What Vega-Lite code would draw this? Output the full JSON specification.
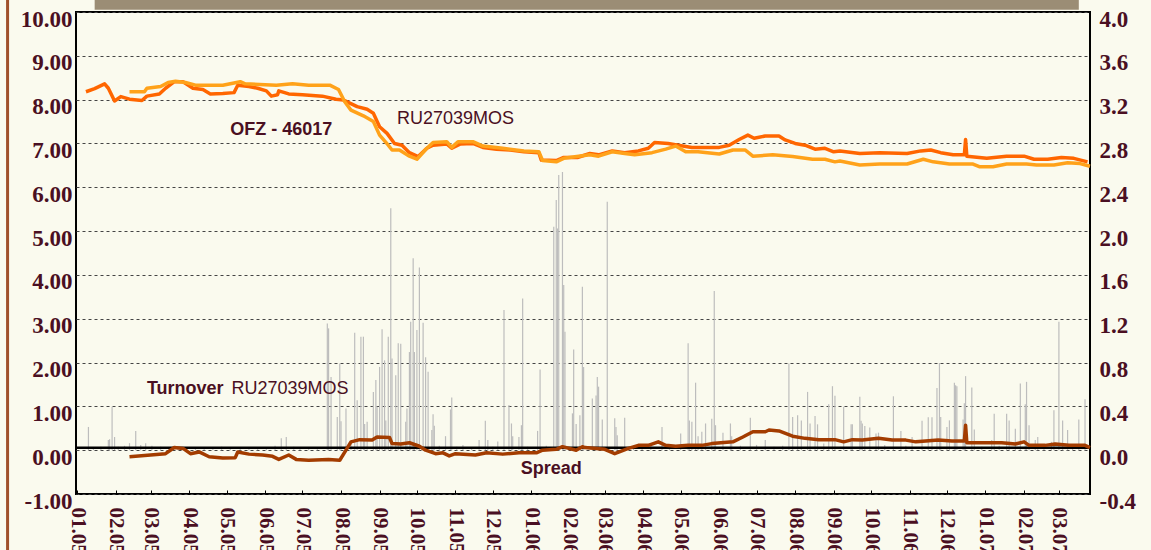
{
  "$schema": "https://vega.github.io/schema/vega-lite/v6.json",
  "width": 1014,
  "height": 482,
  "autosize": {"type": "none"},
  "padding": {"left": 76, "top": 12, "right": 61, "bottom": 56},
  "background": "#fafaee",
  "config": {
    "view": {"stroke": "black", "strokeWidth": 2, "fill": "#fafaee"},
    "axis": {
      "labelFont": "Liberation Serif",
      "labelFontWeight": "bold",
      "labelColor": "#4a0f22",
      "title": null,
      "domain": false
    }
  },
  "datasets": {
    "band": [{"date": "2005-01-15", "date2": "2007-03-17"}],
    "border": [{"date": "2004-11-06"}],
    "turnover": [
      {"date": "2005-01-10", "v": 0.53}, {"date": "2005-01-14", "v": 0.06}, {"date": "2005-01-20", "v": 0.08},
      {"date": "2005-01-26", "v": 0.23}, {"date": "2005-01-27", "v": 0.25}, {"date": "2005-01-29", "v": 0.99},
      {"date": "2005-01-31", "v": 0.30}, {"date": "2005-02-03", "v": 0.08}, {"date": "2005-02-08", "v": 0.10},
      {"date": "2005-02-12", "v": 0.16}, {"date": "2005-02-17", "v": 0.44}, {"date": "2005-02-21", "v": 0.12},
      {"date": "2005-02-25", "v": 0.16}, {"date": "2005-03-02", "v": 0.10}, {"date": "2005-03-09", "v": 0.08},
      {"date": "2005-03-16", "v": 0.06}, {"date": "2005-03-23", "v": 0.05}, {"date": "2005-03-30", "v": 0.07},
      {"date": "2005-04-06", "v": 0.05}, {"date": "2005-04-13", "v": 0.06}, {"date": "2005-04-20", "v": 0.05},
      {"date": "2005-04-27", "v": 0.08}, {"date": "2005-05-04", "v": 0.06}, {"date": "2005-05-12", "v": 0.05},
      {"date": "2005-05-19", "v": 0.07}, {"date": "2005-05-26", "v": 0.06}, {"date": "2005-06-02", "v": 0.05},
      {"date": "2005-06-09", "v": 0.10}, {"date": "2005-06-14", "v": 0.27}, {"date": "2005-06-18", "v": 0.30},
      {"date": "2005-06-24", "v": 0.08}, {"date": "2005-06-29", "v": 0.05}, {"date": "2005-07-06", "v": 0.06},
      {"date": "2005-07-13", "v": 0.07}, {"date": "2005-07-21", "v": 2.89}, {"date": "2005-07-22", "v": 2.78},
      {"date": "2005-07-24", "v": 1.67}, {"date": "2005-07-29", "v": 0.76}, {"date": "2005-07-31", "v": 1.98},
      {"date": "2005-08-01", "v": 0.66}, {"date": "2005-08-05", "v": 0.95}, {"date": "2005-08-09", "v": 0.20},
      {"date": "2005-08-12", "v": 2.68}, {"date": "2005-08-14", "v": 1.14}, {"date": "2005-08-17", "v": 2.59},
      {"date": "2005-08-19", "v": 2.59}, {"date": "2005-08-20", "v": 0.60}, {"date": "2005-08-22", "v": 0.65},
      {"date": "2005-08-27", "v": 1.33}, {"date": "2005-08-29", "v": 1.60}, {"date": "2005-08-30", "v": 0.99},
      {"date": "2005-09-01", "v": 1.90}, {"date": "2005-09-03", "v": 2.76}, {"date": "2005-09-05", "v": 2.05},
      {"date": "2005-09-06", "v": 0.68}, {"date": "2005-09-08", "v": 2.59}, {"date": "2005-09-10", "v": 5.52},
      {"date": "2005-09-11", "v": 2.09}, {"date": "2005-09-14", "v": 1.71}, {"date": "2005-09-16", "v": 2.44},
      {"date": "2005-09-18", "v": 2.43}, {"date": "2005-09-22", "v": 0.65}, {"date": "2005-09-23", "v": 0.95},
      {"date": "2005-09-25", "v": 2.24}, {"date": "2005-09-26", "v": 2.93}, {"date": "2005-09-28", "v": 4.38},
      {"date": "2005-09-29", "v": 2.24}, {"date": "2005-10-01", "v": 2.74}, {"date": "2005-10-03", "v": 4.17},
      {"date": "2005-10-06", "v": 2.91}, {"date": "2005-10-08", "v": 2.12}, {"date": "2005-10-10", "v": 1.79},
      {"date": "2005-10-13", "v": 0.46}, {"date": "2005-10-14", "v": 0.82}, {"date": "2005-10-15", "v": 0.56},
      {"date": "2005-10-19", "v": 0.10}, {"date": "2005-10-24", "v": 0.32}, {"date": "2005-10-28", "v": 0.93},
      {"date": "2005-10-29", "v": 1.20}, {"date": "2005-11-02", "v": 0.08}, {"date": "2005-11-07", "v": 0.12},
      {"date": "2005-11-14", "v": 0.06}, {"date": "2005-11-20", "v": 0.23}, {"date": "2005-11-25", "v": 0.67},
      {"date": "2005-11-27", "v": 0.23}, {"date": "2005-12-01", "v": 0.08}, {"date": "2005-12-05", "v": 0.20},
      {"date": "2005-12-10", "v": 3.20}, {"date": "2005-12-14", "v": 1.03}, {"date": "2005-12-16", "v": 0.61},
      {"date": "2005-12-17", "v": 0.32}, {"date": "2005-12-22", "v": 0.30}, {"date": "2005-12-24", "v": 0.57},
      {"date": "2005-12-25", "v": 3.46}, {"date": "2005-12-29", "v": 0.08}, {"date": "2006-01-06", "v": 0.44},
      {"date": "2006-01-08", "v": 1.84}, {"date": "2006-01-13", "v": 0.10}, {"date": "2006-01-19", "v": 5.10},
      {"date": "2006-01-21", "v": 5.71}, {"date": "2006-01-22", "v": 5.06}, {"date": "2006-01-23", "v": 6.28},
      {"date": "2006-01-26", "v": 6.35}, {"date": "2006-01-27", "v": 3.77}, {"date": "2006-01-28", "v": 2.70},
      {"date": "2006-02-03", "v": 0.84}, {"date": "2006-02-04", "v": 2.30}, {"date": "2006-02-06", "v": 0.60},
      {"date": "2006-02-09", "v": 0.80}, {"date": "2006-02-11", "v": 3.73}, {"date": "2006-02-12", "v": 1.90},
      {"date": "2006-02-19", "v": 1.18}, {"date": "2006-02-22", "v": 1.25}, {"date": "2006-02-23", "v": 1.67},
      {"date": "2006-02-24", "v": 1.45}, {"date": "2006-02-27", "v": 0.70}, {"date": "2006-03-03", "v": 5.67},
      {"date": "2006-03-09", "v": 0.73}, {"date": "2006-03-10", "v": 0.53}, {"date": "2006-03-11", "v": 0.34},
      {"date": "2006-03-17", "v": 0.74}, {"date": "2006-03-24", "v": 0.08}, {"date": "2006-03-31", "v": 0.06},
      {"date": "2006-04-07", "v": 0.10}, {"date": "2006-04-16", "v": 0.53}, {"date": "2006-04-22", "v": 0.08},
      {"date": "2006-05-01", "v": 0.38}, {"date": "2006-05-07", "v": 2.44}, {"date": "2006-05-08", "v": 0.68},
      {"date": "2006-05-10", "v": 0.65}, {"date": "2006-05-13", "v": 1.54}, {"date": "2006-05-15", "v": 0.32},
      {"date": "2006-05-18", "v": 0.42}, {"date": "2006-05-21", "v": 0.61}, {"date": "2006-05-26", "v": 0.72},
      {"date": "2006-05-28", "v": 3.63}, {"date": "2006-05-29", "v": 0.57}, {"date": "2006-06-04", "v": 0.40},
      {"date": "2006-06-10", "v": 0.61}, {"date": "2006-06-11", "v": 0.32}, {"date": "2006-06-18", "v": 0.10},
      {"date": "2006-06-26", "v": 0.74}, {"date": "2006-07-01", "v": 0.12}, {"date": "2006-07-08", "v": 0.23},
      {"date": "2006-07-15", "v": 0.08}, {"date": "2006-07-22", "v": 0.10}, {"date": "2006-07-27", "v": 1.98},
      {"date": "2006-07-30", "v": 0.76}, {"date": "2006-08-03", "v": 0.80}, {"date": "2006-08-06", "v": 0.68},
      {"date": "2006-08-11", "v": 1.33}, {"date": "2006-08-13", "v": 0.61}, {"date": "2006-08-17", "v": 0.78},
      {"date": "2006-08-19", "v": 0.59}, {"date": "2006-08-24", "v": 0.15}, {"date": "2006-08-28", "v": 1.05},
      {"date": "2006-08-31", "v": 1.46}, {"date": "2006-09-02", "v": 1.24}, {"date": "2006-09-09", "v": 0.99},
      {"date": "2006-09-15", "v": 0.59}, {"date": "2006-09-16", "v": 0.59}, {"date": "2006-09-22", "v": 1.22},
      {"date": "2006-09-23", "v": 0.67}, {"date": "2006-09-24", "v": 0.61}, {"date": "2006-09-26", "v": 0.55},
      {"date": "2006-09-30", "v": 0.52}, {"date": "2006-10-05", "v": 0.38}, {"date": "2006-10-07", "v": 0.40},
      {"date": "2006-10-12", "v": 0.12}, {"date": "2006-10-19", "v": 1.23}, {"date": "2006-10-25", "v": 0.44},
      {"date": "2006-10-29", "v": 0.10}, {"date": "2006-11-03", "v": 0.30}, {"date": "2006-11-11", "v": 0.67},
      {"date": "2006-11-16", "v": 0.75}, {"date": "2006-11-19", "v": 0.75}, {"date": "2006-11-23", "v": 1.42},
      {"date": "2006-11-25", "v": 1.99}, {"date": "2006-11-26", "v": 0.76}, {"date": "2006-12-01", "v": 0.53},
      {"date": "2006-12-03", "v": 0.68}, {"date": "2006-12-07", "v": 1.54}, {"date": "2006-12-08", "v": 1.48},
      {"date": "2006-12-09", "v": 1.46}, {"date": "2006-12-14", "v": 0.70}, {"date": "2006-12-15", "v": 1.07},
      {"date": "2006-12-16", "v": 1.69}, {"date": "2006-12-21", "v": 1.43}, {"date": "2006-12-23", "v": 0.47},
      {"date": "2006-12-29", "v": 0.08}, {"date": "2007-01-06", "v": 0.23}, {"date": "2007-01-08", "v": 0.83},
      {"date": "2007-01-12", "v": 0.10}, {"date": "2007-01-18", "v": 0.83}, {"date": "2007-01-20", "v": 0.68},
      {"date": "2007-01-25", "v": 0.49}, {"date": "2007-01-29", "v": 1.52}, {"date": "2007-02-02", "v": 1.05},
      {"date": "2007-02-03", "v": 1.56}, {"date": "2007-02-05", "v": 0.57}, {"date": "2007-02-10", "v": 0.23},
      {"date": "2007-02-12", "v": 0.30}, {"date": "2007-02-17", "v": 0.08}, {"date": "2007-02-23", "v": 0.19},
      {"date": "2007-02-25", "v": 0.91}, {"date": "2007-03-01", "v": 2.93}, {"date": "2007-03-04", "v": 0.68},
      {"date": "2007-03-08", "v": 0.46}, {"date": "2007-03-12", "v": 0.10}, {"date": "2007-03-17", "v": 0.70},
      {"date": "2007-03-22", "v": 1.16}
    ],
    "ofz": [
      {"date": "2005-01-08", "v": 8.18}, {"date": "2005-01-15", "v": 8.25}, {"date": "2005-01-23", "v": 8.36},
      {"date": "2005-01-26", "v": 8.26}, {"date": "2005-01-31", "v": 7.97}, {"date": "2005-02-05", "v": 8.07},
      {"date": "2005-02-12", "v": 8.01}, {"date": "2005-02-22", "v": 7.98}, {"date": "2005-02-26", "v": 8.08},
      {"date": "2005-03-08", "v": 8.13}, {"date": "2005-03-13", "v": 8.26}, {"date": "2005-03-20", "v": 8.41},
      {"date": "2005-03-27", "v": 8.41}, {"date": "2005-04-04", "v": 8.26}, {"date": "2005-04-12", "v": 8.23},
      {"date": "2005-04-18", "v": 8.13}, {"date": "2005-04-28", "v": 8.14}, {"date": "2005-05-07", "v": 8.16},
      {"date": "2005-05-10", "v": 8.33}, {"date": "2005-05-19", "v": 8.30}, {"date": "2005-05-26", "v": 8.26},
      {"date": "2005-06-02", "v": 8.20}, {"date": "2005-06-06", "v": 8.08}, {"date": "2005-06-11", "v": 8.11},
      {"date": "2005-06-12", "v": 8.20}, {"date": "2005-06-20", "v": 8.13}, {"date": "2005-07-01", "v": 8.11},
      {"date": "2005-07-17", "v": 8.08}, {"date": "2005-07-28", "v": 8.01}, {"date": "2005-08-03", "v": 7.99},
      {"date": "2005-08-14", "v": 7.84}, {"date": "2005-08-22", "v": 7.78}, {"date": "2005-08-27", "v": 7.69},
      {"date": "2005-09-01", "v": 7.38}, {"date": "2005-09-07", "v": 7.23}, {"date": "2005-09-13", "v": 7.00},
      {"date": "2005-09-19", "v": 6.96}, {"date": "2005-09-25", "v": 6.79}, {"date": "2005-10-02", "v": 6.70},
      {"date": "2005-10-09", "v": 6.89}, {"date": "2005-10-14", "v": 6.96}, {"date": "2005-10-25", "v": 6.99},
      {"date": "2005-10-29", "v": 6.89}, {"date": "2005-11-05", "v": 6.99}, {"date": "2005-11-15", "v": 7.00},
      {"date": "2005-11-23", "v": 6.91}, {"date": "2005-12-04", "v": 6.87}, {"date": "2005-12-15", "v": 6.85},
      {"date": "2005-12-26", "v": 6.81}, {"date": "2006-01-07", "v": 6.79}, {"date": "2006-01-09", "v": 6.62},
      {"date": "2006-01-21", "v": 6.61}, {"date": "2006-01-27", "v": 6.68}, {"date": "2006-02-07", "v": 6.68},
      {"date": "2006-02-17", "v": 6.77}, {"date": "2006-02-24", "v": 6.74}, {"date": "2006-03-07", "v": 6.83},
      {"date": "2006-03-17", "v": 6.79}, {"date": "2006-03-28", "v": 6.83}, {"date": "2006-04-05", "v": 6.89},
      {"date": "2006-04-10", "v": 7.02}, {"date": "2006-04-21", "v": 7.00}, {"date": "2006-04-29", "v": 6.96},
      {"date": "2006-05-10", "v": 6.91}, {"date": "2006-05-21", "v": 6.91}, {"date": "2006-06-01", "v": 6.91},
      {"date": "2006-06-09", "v": 6.96}, {"date": "2006-06-17", "v": 7.09}, {"date": "2006-06-24", "v": 7.19},
      {"date": "2006-06-29", "v": 7.12}, {"date": "2006-07-08", "v": 7.17}, {"date": "2006-07-19", "v": 7.17},
      {"date": "2006-07-24", "v": 7.08}, {"date": "2006-08-01", "v": 7.00}, {"date": "2006-08-09", "v": 6.96},
      {"date": "2006-08-17", "v": 6.87}, {"date": "2006-08-25", "v": 6.89}, {"date": "2006-09-01", "v": 6.81},
      {"date": "2006-09-06", "v": 6.83}, {"date": "2006-09-22", "v": 6.77}, {"date": "2006-10-08", "v": 6.79},
      {"date": "2006-10-30", "v": 6.77}, {"date": "2006-11-10", "v": 6.83}, {"date": "2006-11-18", "v": 6.85},
      {"date": "2006-11-26", "v": 6.79}, {"date": "2006-12-06", "v": 6.74}, {"date": "2006-12-15", "v": 6.74},
      {"date": "2006-12-16", "v": 7.09}, {"date": "2006-12-17", "v": 6.71}, {"date": "2007-01-02", "v": 6.66},
      {"date": "2007-01-18", "v": 6.71}, {"date": "2007-02-01", "v": 6.71}, {"date": "2007-02-09", "v": 6.64},
      {"date": "2007-02-20", "v": 6.64}, {"date": "2007-03-03", "v": 6.68}, {"date": "2007-03-13", "v": 6.66},
      {"date": "2007-03-24", "v": 6.58}
    ],
    "ru": [
      {"date": "2005-02-12", "v": 8.18}, {"date": "2005-02-24", "v": 8.18}, {"date": "2005-02-26", "v": 8.26},
      {"date": "2005-03-09", "v": 8.30}, {"date": "2005-03-15", "v": 8.39}, {"date": "2005-03-21", "v": 8.42},
      {"date": "2005-03-29", "v": 8.39}, {"date": "2005-04-06", "v": 8.33}, {"date": "2005-04-28", "v": 8.33},
      {"date": "2005-05-12", "v": 8.41}, {"date": "2005-05-16", "v": 8.36}, {"date": "2005-06-10", "v": 8.33},
      {"date": "2005-06-23", "v": 8.36}, {"date": "2005-07-06", "v": 8.33}, {"date": "2005-07-23", "v": 8.33},
      {"date": "2005-07-30", "v": 8.23}, {"date": "2005-08-04", "v": 7.95}, {"date": "2005-08-09", "v": 7.76},
      {"date": "2005-08-19", "v": 7.63}, {"date": "2005-08-27", "v": 7.50}, {"date": "2005-09-01", "v": 7.19},
      {"date": "2005-09-08", "v": 6.96}, {"date": "2005-09-11", "v": 6.85}, {"date": "2005-09-17", "v": 6.85},
      {"date": "2005-09-25", "v": 6.71}, {"date": "2005-10-01", "v": 6.64}, {"date": "2005-10-09", "v": 6.89},
      {"date": "2005-10-14", "v": 7.02}, {"date": "2005-10-25", "v": 7.04}, {"date": "2005-10-29", "v": 6.91},
      {"date": "2005-11-03", "v": 7.04}, {"date": "2005-11-15", "v": 7.04}, {"date": "2005-11-23", "v": 6.94},
      {"date": "2005-12-09", "v": 6.89}, {"date": "2005-12-26", "v": 6.83}, {"date": "2006-01-07", "v": 6.81},
      {"date": "2006-01-10", "v": 6.61}, {"date": "2006-01-21", "v": 6.58}, {"date": "2006-01-27", "v": 6.66},
      {"date": "2006-02-17", "v": 6.74}, {"date": "2006-02-24", "v": 6.71}, {"date": "2006-03-07", "v": 6.81},
      {"date": "2006-03-17", "v": 6.77}, {"date": "2006-03-25", "v": 6.74}, {"date": "2006-04-08", "v": 6.79},
      {"date": "2006-04-19", "v": 6.87}, {"date": "2006-04-27", "v": 6.94}, {"date": "2006-05-05", "v": 6.81},
      {"date": "2006-05-15", "v": 6.81}, {"date": "2006-06-01", "v": 6.76}, {"date": "2006-06-12", "v": 6.85},
      {"date": "2006-06-22", "v": 6.85}, {"date": "2006-06-28", "v": 6.71}, {"date": "2006-07-14", "v": 6.74},
      {"date": "2006-07-30", "v": 6.70}, {"date": "2006-08-15", "v": 6.64}, {"date": "2006-08-25", "v": 6.64},
      {"date": "2006-09-02", "v": 6.58}, {"date": "2006-09-06", "v": 6.60}, {"date": "2006-09-22", "v": 6.51},
      {"date": "2006-10-08", "v": 6.53}, {"date": "2006-10-30", "v": 6.53}, {"date": "2006-11-12", "v": 6.64},
      {"date": "2006-11-20", "v": 6.58}, {"date": "2006-12-03", "v": 6.53}, {"date": "2006-12-22", "v": 6.53},
      {"date": "2006-12-27", "v": 6.47}, {"date": "2007-01-07", "v": 6.47}, {"date": "2007-01-18", "v": 6.53},
      {"date": "2007-02-03", "v": 6.53}, {"date": "2007-02-11", "v": 6.51}, {"date": "2007-02-25", "v": 6.51},
      {"date": "2007-03-08", "v": 6.56}, {"date": "2007-03-18", "v": 6.54}, {"date": "2007-03-26", "v": 6.48}
    ],
    "spread": [
      {"date": "2005-02-12", "v": -0.15}, {"date": "2005-03-13", "v": -0.08}, {"date": "2005-03-20", "v": 0.06},
      {"date": "2005-03-27", "v": 0.04}, {"date": "2005-04-02", "v": -0.08}, {"date": "2005-04-09", "v": -0.04},
      {"date": "2005-04-17", "v": -0.15}, {"date": "2005-04-28", "v": -0.18}, {"date": "2005-05-08", "v": -0.17},
      {"date": "2005-05-10", "v": -0.04}, {"date": "2005-05-19", "v": -0.09}, {"date": "2005-05-30", "v": -0.11},
      {"date": "2005-06-07", "v": -0.14}, {"date": "2005-06-12", "v": -0.21}, {"date": "2005-06-20", "v": -0.11},
      {"date": "2005-06-26", "v": -0.21}, {"date": "2005-07-06", "v": -0.23}, {"date": "2005-07-22", "v": -0.21},
      {"date": "2005-07-31", "v": -0.23}, {"date": "2005-08-05", "v": 0.00}, {"date": "2005-08-09", "v": 0.19},
      {"date": "2005-08-16", "v": 0.24}, {"date": "2005-08-26", "v": 0.23}, {"date": "2005-08-30", "v": 0.30},
      {"date": "2005-09-09", "v": 0.29}, {"date": "2005-09-11", "v": 0.15}, {"date": "2005-09-18", "v": 0.14},
      {"date": "2005-09-25", "v": 0.17}, {"date": "2005-10-03", "v": 0.09}, {"date": "2005-10-08", "v": 0.00},
      {"date": "2005-10-16", "v": -0.08}, {"date": "2005-10-22", "v": -0.06}, {"date": "2005-10-27", "v": -0.13},
      {"date": "2005-11-01", "v": -0.08}, {"date": "2005-11-17", "v": -0.11}, {"date": "2005-11-26", "v": -0.06},
      {"date": "2005-12-09", "v": -0.09}, {"date": "2005-12-22", "v": -0.06}, {"date": "2006-01-05", "v": -0.06},
      {"date": "2006-01-10", "v": 0.00}, {"date": "2006-01-21", "v": 0.02}, {"date": "2006-01-26", "v": 0.08},
      {"date": "2006-02-06", "v": 0.00}, {"date": "2006-02-11", "v": 0.08}, {"date": "2006-02-13", "v": 0.06},
      {"date": "2006-03-01", "v": 0.02}, {"date": "2006-03-09", "v": -0.08}, {"date": "2006-03-20", "v": 0.04},
      {"date": "2006-03-28", "v": 0.11}, {"date": "2006-04-05", "v": 0.11}, {"date": "2006-04-13", "v": 0.19},
      {"date": "2006-04-19", "v": 0.11}, {"date": "2006-04-27", "v": 0.09}, {"date": "2006-05-07", "v": 0.11},
      {"date": "2006-05-18", "v": 0.11}, {"date": "2006-05-26", "v": 0.15}, {"date": "2006-06-12", "v": 0.19},
      {"date": "2006-06-20", "v": 0.30}, {"date": "2006-06-28", "v": 0.42}, {"date": "2006-07-08", "v": 0.42},
      {"date": "2006-07-11", "v": 0.46}, {"date": "2006-07-19", "v": 0.44}, {"date": "2006-07-30", "v": 0.32},
      {"date": "2006-08-09", "v": 0.27}, {"date": "2006-08-20", "v": 0.24}, {"date": "2006-09-02", "v": 0.24},
      {"date": "2006-09-09", "v": 0.19}, {"date": "2006-09-16", "v": 0.24}, {"date": "2006-09-24", "v": 0.23},
      {"date": "2006-10-07", "v": 0.27}, {"date": "2006-10-18", "v": 0.23}, {"date": "2006-10-29", "v": 0.23},
      {"date": "2006-11-06", "v": 0.19}, {"date": "2006-11-14", "v": 0.21}, {"date": "2006-11-24", "v": 0.23},
      {"date": "2006-12-05", "v": 0.21}, {"date": "2006-12-15", "v": 0.21}, {"date": "2006-12-16", "v": 0.57},
      {"date": "2006-12-17", "v": 0.17}, {"date": "2007-01-01", "v": 0.17}, {"date": "2007-01-14", "v": 0.17},
      {"date": "2007-01-25", "v": 0.14}, {"date": "2007-02-01", "v": 0.19}, {"date": "2007-02-05", "v": 0.11},
      {"date": "2007-02-18", "v": 0.11}, {"date": "2007-02-26", "v": 0.14}, {"date": "2007-03-09", "v": 0.11},
      {"date": "2007-03-22", "v": 0.11}, {"date": "2007-03-26", "v": 0.06}
    ],
    "labels": [
      {"date": "2005-06-14", "v": 7.31, "label": "OFZ - 46017"},
      {"date": "2006-01-17", "v": -0.44, "label": "Spread"}
    ],
    "labelsLeftBold": [
      {"date": "2005-02-26", "v": 1.39, "label": "Turnover"}
    ],
    "labelsPlain": [
      {"date": "2005-11-01", "v": 7.55, "label": "RU27039MOS"}
    ],
    "labelsPlainLeft": [
      {"date": "2005-05-05", "v": 1.39, "label": "RU27039MOS"}
    ]
  },
  "resolve": {"scale": {"y": "independent"}},
  "layer": [
    {
      "layer": [
        {
          "data": {"name": "band"},
          "mark": {"type": "rect", "color": "#9b8d75"},
          "encoding": {
            "x": {"field": "date", "type": "temporal", "scale": {"type": "utc", "domain": [{"year": 2004, "month": 12, "date": 31, "utc": true}, {"year": 2007, "month": 3, "date": 26, "utc": true}]}},
            "x2": {"field": "date2"},
            "y": {"datum": 10.05, "type": "quantitative", "scale": {"domain": [-1, 10], "nice": false, "zero": false}},
            "y2": {"datum": 10.6}
          }
        },
        {
          "data": {"name": "border"},
          "mark": {"type": "rule", "color": "#a0502a", "strokeWidth": 3},
          "encoding": {
            "x": {"field": "date", "type": "temporal"},
            "y": {"datum": -3.5, "type": "quantitative"},
            "y2": {"datum": 10.6}
          }
        },
        {
          "data": {"name": "turnover"},
          "mark": {"type": "rule", "color": "#bdbdbd", "strokeWidth": 1.2},
          "encoding": {
            "x": {
              "field": "date", "type": "temporal",
              "axis": {
                "format": "%m.%y",
                "tickCount": {"interval": "month", "step": 1},
                "labelAngle": 90,
                "labelAlign": "left",
                "labelBaseline": "middle",
                "labelFontSize": 21,
                "labelPadding": 17,
                "tickSize": -4,
                "tickColor": "black",
                "tickWidth": 1,
                "grid": false,
                "labelFlush": false,
                "labelOverlap": false
              }
            },
            "y": {
              "field": "v", "type": "quantitative",
              "axis": {
                "values": [-1, 0, 1, 2, 3, 4, 5, 6, 7, 8, 9, 10],
                "format": ".2f",
                "labelExpr": "replace(datum.label, '\u2212', '-')",
                "labelFontSize": 23,
                "labelPadding": 4,
                "labelOffset": 7,
                "ticks": false,
                "grid": true,
                "gridColor": "#444444",
                "gridDash": [3, 3],
                "gridWidth": 1
              }
            },
            "y2": {"datum": 0}
          }
        },
        {
          "data": {"values": [{}]},
          "mark": {"type": "rule", "color": "black", "strokeWidth": 2.5},
          "encoding": {"y": {"datum": 0.053, "type": "quantitative"}}
        },
        {
          "data": {"name": "spread"},
          "mark": {"type": "line", "color": "#a33c00", "strokeWidth": 3.5, "strokeJoin": "round"},
          "encoding": {
            "x": {"field": "date", "type": "temporal"},
            "y": {"field": "v", "type": "quantitative"}
          }
        },
        {
          "data": {"name": "ofz"},
          "mark": {"type": "line", "color": "#ff6600", "strokeWidth": 3.5, "strokeJoin": "round"},
          "encoding": {
            "x": {"field": "date", "type": "temporal"},
            "y": {"field": "v", "type": "quantitative"}
          }
        },
        {
          "data": {"name": "ru"},
          "mark": {"type": "line", "color": "#ffa21a", "strokeWidth": 3.5, "strokeJoin": "round"},
          "encoding": {
            "x": {"field": "date", "type": "temporal"},
            "y": {"field": "v", "type": "quantitative"}
          }
        },
        {
          "data": {"name": "labels"},
          "mark": {"type": "text", "font": "Liberation Sans", "fontSize": 18, "fontWeight": "bold", "color": "#4a0f22", "align": "center", "baseline": "middle"},
          "encoding": {
            "x": {"field": "date", "type": "temporal"},
            "y": {"field": "v", "type": "quantitative"},
            "text": {"field": "label"}
          }
        },
        {
          "data": {"name": "labelsLeftBold"},
          "mark": {"type": "text", "font": "Liberation Sans", "fontSize": 18, "fontWeight": "bold", "color": "#4a0f22", "align": "left", "baseline": "middle"},
          "encoding": {
            "x": {"field": "date", "type": "temporal"},
            "y": {"field": "v", "type": "quantitative"},
            "text": {"field": "label"}
          }
        },
        {
          "data": {"name": "labelsPlain"},
          "mark": {"type": "text", "font": "Liberation Sans", "fontSize": 18, "color": "#4a0f22", "align": "center", "baseline": "middle"},
          "encoding": {
            "x": {"field": "date", "type": "temporal"},
            "y": {"field": "v", "type": "quantitative"},
            "text": {"field": "label"}
          }
        },
        {
          "data": {"name": "labelsPlainLeft"},
          "mark": {"type": "text", "font": "Liberation Sans", "fontSize": 18, "color": "#4a0f22", "align": "left", "baseline": "middle"},
          "encoding": {
            "x": {"field": "date", "type": "temporal"},
            "y": {"field": "v", "type": "quantitative"},
            "text": {"field": "label"}
          }
        }
      ]
    },
    {
      "data": {"values": [{}]},
      "mark": {"type": "rule", "opacity": 0},
      "encoding": {
        "y": {
          "datum": 0, "type": "quantitative",
          "scale": {"domain": [-0.4, 4.0], "nice": false, "zero": false},
          "axis": {
            "orient": "right",
            "values": [-0.4, 0, 0.4, 0.8, 1.2, 1.6, 2, 2.4, 2.8, 3.2, 3.6, 4],
            "format": ".1f",
            "labelExpr": "replace(datum.label, '\u2212', '-')",
            "labelFontSize": 23,
            "labelPadding": 9,
            "labelOffset": 7,
            "ticks": false,
            "grid": false
          }
        }
      }
    }
  ]
}
